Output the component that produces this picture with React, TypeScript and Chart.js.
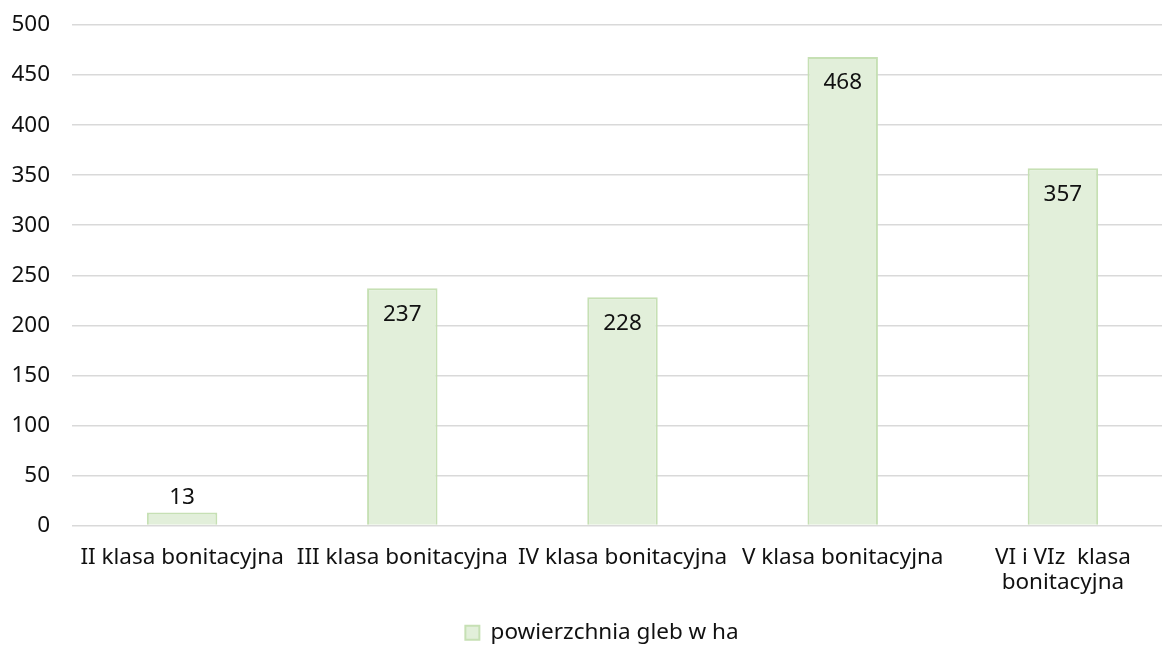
import React, { useEffect, useRef } from "react";
import { Chart, registerables } from "chart.js";

Chart.register(...registerables);

const categories: (string | string[])[] = [
  "II klasa bonitacyjna",
  "III klasa bonitacyjna",
  "IV klasa bonitacyjna",
  "V klasa bonitacyjna",
  ["VI i VIz  klasa", "bonitacyjna"],
];
const seriesName = "powierzchnia gleb w ha";
const values = [13, 237, 228, 468, 357];
const yMax = 500;
const yStep = 50;

const FONT = "'Noto Sans', sans-serif";
const TEXT = "#111111";
const FS = 22.5;

const labelPlugin = {
  id: "barLabels",
  afterDatasetsDraw(chart: any) {
    const ctx = chart.ctx;
    const meta = chart.getDatasetMeta(0);
    ctx.save();
    ctx.font = `${FS}px ${FONT}`;
    ctx.fillStyle = TEXT;
    ctx.textAlign = "center";
    ctx.textBaseline = "middle";
    meta.data.forEach((bar: any, i: number) => {
      const h = bar.base - bar.y;
      const y = h > 40 ? bar.y + 26 : bar.y - 15;
      ctx.fillText(String(values[i]), bar.x, y);
    });
    ctx.restore();
  },
};

export default function App() {
  const ref = useRef<HTMLCanvasElement>(null);
  useEffect(() => {
    document.body.style.margin = "0";
    const chart = new Chart(ref.current!, {
      type: "bar",
      data: {
        labels: categories,
        datasets: [
          {
            label: seriesName,
            data: values,
            backgroundColor: "#e2efda",
            borderColor: "#c6e0b4",
            borderWidth: 2,
            categoryPercentage: 1,
            barPercentage: 0.32,
          },
        ],
      },
      options: {
        animation: false,
        responsive: false,
        maintainAspectRatio: false,
        layout: { padding: { top: 25, left: 0, right: 0, bottom: -5 } },
        plugins: {
          tooltip: { enabled: false },
          legend: {
            position: "bottom",
            labels: {
              font: { family: FONT, size: FS },
              color: TEXT,
              boxWidth: 14,
              boxHeight: 14,
              padding: 0,
            },
          },
        },
        scales: {
          x: {
            grid: { display: false, drawTicks: false },
            border: { display: false },
            ticks: {
              font: { family: FONT, size: FS, lineHeight: 1.14 },
              color: TEXT,
              padding: 19,
              maxRotation: 0,
              autoSkip: false,
            },
            afterFit: (s: any) => {
              s.height = 96;
            },
          },
          y: {
            min: 0,
            max: yMax,
            grid: {
              color: "#d9d9d9",
              lineWidth: 1.5,
              drawTicks: true,
              tickLength: 22,
              tickColor: "rgba(0,0,0,0)",
            },
            border: { display: false },
            ticks: {
              stepSize: yStep,
              font: { family: FONT, size: FS },
              color: TEXT,
              padding: 0,
            },
            afterFit: (s: any) => {
              s.width = 72;
            },
          },
          y2: {
            position: "right",
            display: true,
            grid: { display: false, drawTicks: false },
            border: { display: false },
            ticks: { display: false, padding: 0 },
            afterFit: (s: any) => {
              s.width = 31;
            },
          },
        },
      },
      plugins: [labelPlugin],
    });
    return () => chart.destroy();
  }, []);
  return (
    <div style={{ position: "absolute", left: 0, top: 0, width: 1162, height: 649, overflow: "hidden", background: "#fff" }}>
      <canvas ref={ref} width={1204} height={649} style={{ display: "block" }} />
    </div>
  );
}
